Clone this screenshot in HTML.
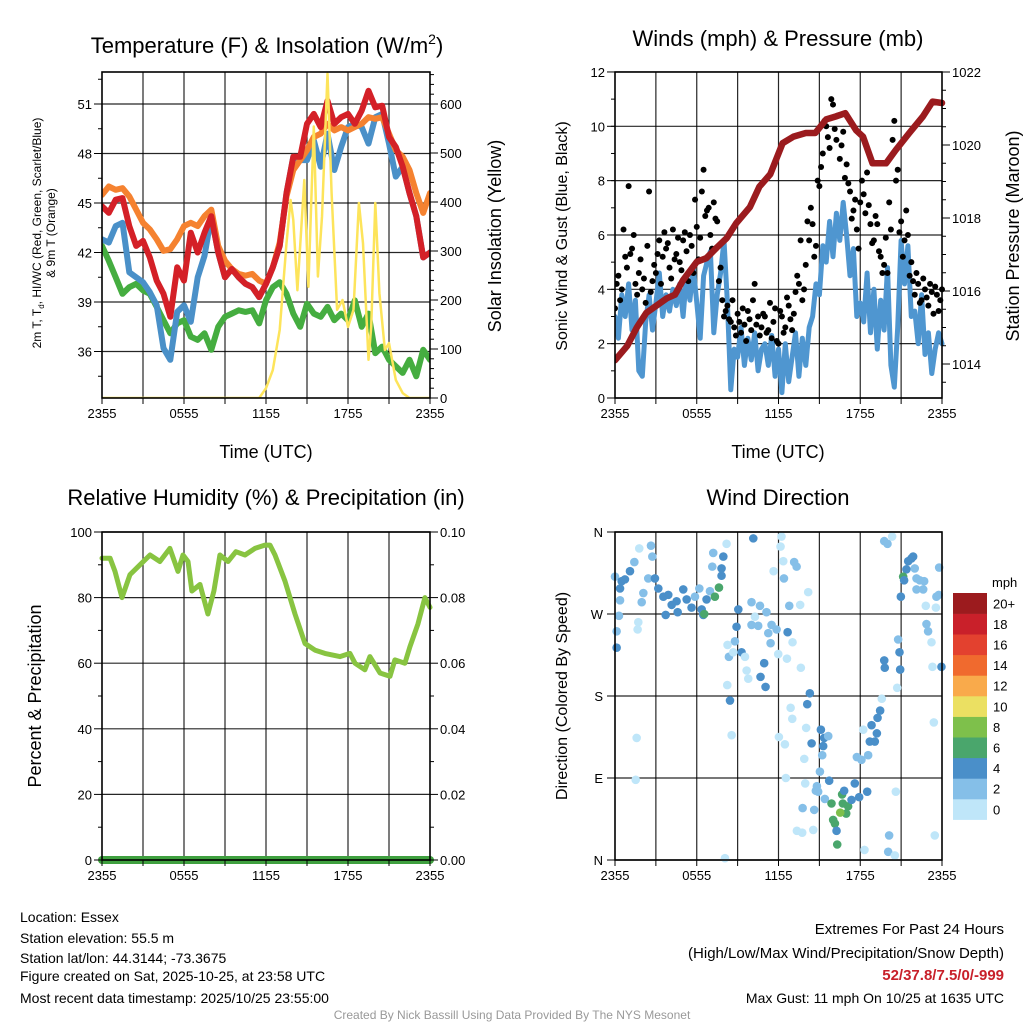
<!DOCTYPE html>
<html><head><meta charset="utf-8"><style>
html,body{margin:0;padding:0;background:#fff;}
svg{display:block;font-family:"Liberation Sans",Arial,sans-serif;}
</style></head><body>
<svg id="chart" width="1024" height="1024" viewBox="0 0 1024 1024" xmlns="http://www.w3.org/2000/svg">
<rect x="0" y="0" width="1024" height="1024" fill="#fff"/>
<g id="layer"></g>
<text x="267" y="53" font-size="22" text-anchor="middle">Temperature (F) &amp; Insolation (W/m<tspan font-size="14" dy="-9">2</tspan><tspan dy="9">)</tspan></text>
<text x="778" y="46" font-size="22" text-anchor="middle">Winds (mph) &amp; Pressure (mb)</text>
<text x="266" y="505" font-size="22" text-anchor="middle">Relative Humidity (%) &amp; Precipitation (in)</text>
<text x="778" y="505" font-size="22" text-anchor="middle">Wind Direction</text>
<text x="266" y="458" font-size="18" text-anchor="middle">Time (UTC)</text>
<text x="778" y="458" font-size="18" text-anchor="middle">Time (UTC)</text>
<text font-size="12" text-anchor="middle" transform="translate(41,233) rotate(-90)">2m T, T<tspan font-size="8" dy="3">d</tspan><tspan dy="-3">, HI/WC (Red, Green, Scarlet/Blue)</tspan></text>
<text font-size="12" text-anchor="middle" transform="translate(55,233) rotate(-90)">&amp; 9m T (Orange)</text>
<text font-size="18" text-anchor="middle" transform="translate(501,236) rotate(-90)">Solar Insolation (Yellow)</text>
<text font-size="16" text-anchor="middle" transform="translate(567,236) rotate(-90)">Sonic Wind &amp; Gust (Blue, Black)</text>
<text font-size="18" text-anchor="middle" transform="translate(1019,236) rotate(-90)">Station Pressure (Maroon)</text>
<text font-size="18" text-anchor="middle" transform="translate(41,696) rotate(-90)">Percent &amp; Precipitation</text>
<text font-size="16" text-anchor="middle" transform="translate(567,696) rotate(-90)">Direction (Colored By Speed)</text>
<g font-size="14">
<text x="20" y="922">Location: Essex</text>
<text x="20" y="943">Station elevation: 55.5 m</text>
<text x="20" y="963">Station lat/lon: 44.3144; -73.3675</text>
<text x="20" y="981">Figure created on Sat, 2025-10-25, at 23:58 UTC</text>
<text x="20" y="1003">Most recent data timestamp: 2025/10/25 23:55:00</text>
</g>
<g font-size="15" text-anchor="end">
<text x="1004" y="934">Extremes For Past 24 Hours</text>
<text x="1004" y="958">(High/Low/Max Wind/Precipitation/Snow Depth)</text>
<text x="1004" y="980" fill="#c8202a" font-weight="bold">52/37.8/7.5/0/-999</text>
<text x="1004" y="1003" font-size="14">Max Gust: 11 mph On 10/25 at 1635 UTC</text>
</g>
<text x="512" y="1019" font-size="12" fill="#999" text-anchor="middle">Created By Nick Bassill Using Data Provided By The NYS Mesonet</text>
</svg>
<script>
// ---------- data ----------
const hoursHalf = [0,0.5,1,1.5,2,2.5,3,3.5,4,4.5,5,5.5,6,6.5,7,7.5,8,8.5,9,9.5,10,10.5,11,11.5,12,12.5,13,13.5,14,14.5,15,15.5,16,16.5,17,17.5,18,18.5,19,19.5,20,20.5,21,21.5,22,22.5,23,23.5,24];
const temp2m = [44.8,44.4,45.2,45.3,43.6,42.4,42.7,41.7,40.3,39.5,38.1,41.1,40.3,43.2,42,43.2,44.2,42,40.5,41,40.5,40.1,39.9,39.3,40.1,41.1,42.4,45.6,47.8,47.8,49.8,50.4,49.6,51.2,49.8,50.2,50.4,49.8,50.6,51.8,50.8,50.9,49,48.4,47.2,45.6,44.2,41.7,42];
const temp9m = [45.5,46,45.8,45.9,45.4,44.6,43.8,43.4,42.8,42.1,42.2,42.8,43.6,43.8,43.6,44.2,44.6,42.4,41.5,41,40.7,40.6,40.7,40.3,40.1,41.1,42.6,45.4,47,47.6,48.2,49,49.2,49.8,49.4,49.6,49.4,49.6,49.8,50.2,50.1,50.2,49.2,48.2,47.8,47,45.6,44.4,45.6];
const heatIndexWC = [42.8,42.6,43.6,43.8,40.8,40.5,40.2,39.6,38.8,36.2,35.5,38.4,38.8,37.8,40.5,41.8,44.2,42,40.5,41,40.5,40.1,39.9,39.3,40.1,41.1,42.4,45.6,47.8,47.6,47.6,48.8,47.2,49.2,47.0,48.4,49.6,49.8,49.6,48.6,50.2,50.4,48.6,46.6,47.2,45.6,44.2,41.7,42];
const dewPoint = [42.4,41.5,40.5,39.5,39.9,40.1,39.7,39.5,38.7,37.9,37.1,37.7,37.9,36.9,36.7,37.1,36.1,37.5,38.1,38.3,38.5,38.4,38.5,37.7,39.1,39.9,40.2,39.5,38.3,37.5,38.9,38.3,38.1,38.7,37.9,38.3,37.9,39.1,37.5,38.3,35.9,36.3,35.5,35.1,34.7,35.5,34.5,36.1,35.5];
const solarHours = [0,11.5,12,12.5,13,13.5,13.8,14,14.3,14.8,15.1,15.5,15.8,16.1,16.5,16.8,17.2,17.6,18,18.4,18.8,19.1,19.5,19.7,20,20.3,20.7,21,21.5,22,22.5,24];
const solarValues = [0,0,20,57,139,316,404,363,220,445,227,554,248,370,662,418,180,200,145,180,398,316,78,145,398,214,98,112,37,10,0,0];

const pressHours = [0,0.9,1.6,2.3,3.8,4.4,5,6,6.7,7.5,8.2,8.9,9.9,10.6,11.4,12.3,13.1,14,14.7,15.5,16.2,16.9,17.7,18.2,18.9,19.9,20.6,21.6,22.6,23.3,24];
const pressValues = [1014.1,1014.5,1015.0,1015.4,1015.8,1015.9,1016.3,1016.8,1016.9,1017.2,1017.45,1017.86,1018.3,1018.86,1019.2,1020.05,1020.23,1020.33,1020.33,1020.7,1020.78,1020.87,1020.4,1020.23,1019.5,1019.5,1019.86,1020.33,1020.78,1021.19,1021.15];
const windSpeed = [3.0,2.2,3.8,3.0,4.2,2.5,3.6,1.0,0.8,2.8,3.8,2.5,3.5,4.6,3.0,3.8,3.2,4.0,3.4,4.2,3.0,4.5,3.6,4.8,3.5,2.2,4.5,5.0,5.4,2.4,3.8,4.6,5.8,3.5,0.3,1.8,1.5,2.6,1.2,2.2,1.4,2.4,1.0,1.8,2.0,1.2,2.3,0.8,1.8,0.2,2.0,0.6,1.5,2.4,0.8,2.2,1.2,2.6,3.0,4.2,3.8,5.6,5.0,6.5,5.2,6.8,5.8,7.2,6.0,4.5,5.5,3.0,3.5,2.8,4.6,2.4,4.0,1.8,3.6,2.5,4.8,1.2,0.4,2.6,5.8,4.2,5.6,3.0,3.2,2.0,3.8,1.6,2.4,0.9,1.8,2.4,2.0];
const gustA = [3.3,4.5,4.0,5.2,7.8,5.5,4.2,4.6,4.0,3.5,7.6,4.3,4.6,5.8,5.2,5.5,4.8,6.2,5.3,5.0,5.8,5.4,6.0,4.6,6.3,5.9,8.4,6.9,6.0,7.2,6.5,4.8,3.0,3.4,2.8,2.6,3.1,2.4,2.7,3.2,2.5,4.2,3.0,2.6,3.0,2.5,2.2,3.3,2.0,3.0,2.6,3.4,2.5,3.9,4.2,3.6,4.9,5.8,6.4,5.6,7.8,9.0,10.0,9.2,10.8,9.5,8.8,9.8,8.6,7.6,6.9,6.2,7.2,7.5,8.3,6.4,5.8,6.4,5.2,4.9,4.6,6.2,10.2,8.4,6.5,5.8,6.0,5.0,3.8,4.2,3.6,4.0,3.4,3.9,4.1,3.2,4.0];
const gustB = [4.2,3.6,6.2,4.8,5.3,6.0,3.8,5.1,4.4,5.6,3.9,4.9,5.3,4.2,6.1,5.7,4.4,5.1,5.9,4.7,6.1,4.3,5.6,7.3,5.1,7.6,6.7,7.0,5.5,6.6,4.3,3.6,3.2,2.9,3.6,2.3,2.8,3.3,2.1,2.9,3.6,2.7,2.3,3.1,2.4,3.5,2.8,2.1,3.2,2.4,3.7,2.9,3.1,4.5,5.8,4.0,6.5,7.0,5.2,8.0,8.5,10.2,9.6,11.0,9.9,10.4,9.3,8.1,7.9,6.6,7.3,5.5,8.0,6.8,7.1,5.7,6.7,5.4,4.6,5.9,7.2,9.5,8.0,6.1,5.2,6.9,4.5,4.3,4.6,3.5,4.4,3.7,4.2,3.1,3.8,3.6];

const rhHours = [0,0.59,0.95,1.46,2.05,2.78,3.51,4.24,4.97,5.56,5.93,6.29,6.58,7.17,7.75,8.19,8.63,9.22,9.8,10.46,11.19,11.92,12.29,12.66,13.39,14.12,14.85,15.58,16.31,17.41,18.14,18.51,19.24,19.6,20.34,21.07,21.43,22.16,22.53,23.12,23.63,24];
const rhValues = [92,92,88,80,87,90,93,91,95,88,93,91,82,84,75,82,93,91,94,93,95,96,96,93,85,75,66,64,63,62,63,60,58,62,57,56,61,60,65,72,80,77];
const precipHours = [0,24];
const precipValues = [0,0];

const dirHours = [0.0,0.37,0.49,0.73,1.10,1.42,1.78,2.64,2.74,2.08,1.96,0.37,0.29,0.12,0.12,1.71,1.66,1.59,1.52,2.44,2.93,3.18,3.55,3.91,4.16,4.52,5.01,5.26,5.62,3.72,4.60,5.87,6.19,6.48,6.36,6.55,6.72,6.97,7.33,7.63,7.82,7.82,7.14,7.95,7.21,8.19,9.05,8.92,8.80,9.29,8.36,8.26,8.68,9.54,9.66,9.78,8.44,8.56,8.07,8.24,10.02,10.64,11.12,10.27,10.02,10.51,11.49,11.86,11.25,11.42,11.98,12.67,13.03,12.62,10.95,10.68,11.05,10.15,12.22,12.15,12.35,11.64,12.40,12.79,13.59,14.18,13.15,13.33,13.64,14.30,14.11,12.89,13.01,14.03,12.03,12.47,14.43,13.89,12.54,13.96,13.77,14.62,14.74,13.35,13.74,14.55,15.11,15.35,15.65,15.28,15.21,15.04,15.72,14.82,14.91,15.40,15.89,16.67,16.72,17.11,16.97,16.53,16.01,16.14,16.26,16.31,16.82,17.36,17.92,17.60,18.51,17.75,18.09,18.58,18.70,19.07,19.22,18.83,19.27,19.46,19.58,18.22,19.76,19.80,20.71,20.78,20.88,20.93,20.61,20.12,18.31,20.05,20.54,19.76,20.00,20.34,21.52,21.76,21.88,21.39,22.00,21.15,21.22,20.98,22.13,22.37,22.69,22.13,22.62,23.79,23.59,23.76,22.81,23.55,22.86,22.98,23.23,23.96,23.30,23.40,23.47];
const dirDegrees = [311,298,306,308,317,327,342,345,333,293,283,285,268,251,233,261,253,134,88,309,309,298,289,291,280,284,297,286,277,269,272,289,298,269,275,270,286,295,289,299,312,320,322,333,337,347,275,256,240,228,223,236,228,223,208,199,175,137,2,192,283,279,272,267,258,257,258,253,249,238,226,250,239,221,216,201,190,353,355,344,328,317,309,279,280,294,327,322,211,183,171,167,155,145,135,127,128,111,90,84,57,55,76,32,30,33,143,134,136,125,115,97,87,81,75,67,62,72,62,59,51,52,44,40,32,17,76,66,69,84,75,113,110,115,130,130,139,148,156,164,177,143,219,211,189,242,228,209,75,27,11,9,5,350,347,355,328,331,333,319,320,311,307,289,309,307,306,297,297,321,289,291,279,277,259,251,239,212,212,151,27];
const dirSpeed = [3,5,5,5,5,3,1,3,3,3,3,3,3,3,5,1,1,1,1,3,5,5,5,5,5,5,5,5,5,5,5,3,3,5,5,7,5,3,7,7,5,5,3,5,3,1,5,5,3,5,3,1,1,1,1,1,5,1,1,1,3,3,3,1,3,3,3,3,3,3,1,5,1,1,5,5,5,5,1,1,1,1,3,3,1,1,3,3,1,5,5,1,1,1,1,1,5,1,1,1,3,3,3,1,1,1,5,5,3,5,3,3,5,3,3,3,7,7,7,7,7,9,7,7,5,7,5,5,5,5,5,3,3,3,5,5,5,5,5,5,1,1,5,5,1,3,5,5,1,3,1,3,1,3,3,1,5,5,5,5,3,7,5,5,3,3,3,3,3,3,3,3,1,1,3,3,1,5,1,1,1];

const cbLabels = ["0","2","4","6","8","10","12","14","16","18","20+"];
const cbColors = ["#bfe6f9","#85bfe8","#4a8fc9","#4aa66c","#7ec04b","#ebe062","#f9aa4b","#f06a2e","#e3412f","#c9202a","#9c1b1e"];

// ---------- helpers ----------
const NS = "http://www.w3.org/2000/svg";
const root = document.getElementById('layer');
function mk(tag, parent){ const e = document.createElementNS(NS, tag); (parent||root).appendChild(e); return e; }
function at(e, o){ for (const k in o) e.setAttribute(k, o[k]); return e; }
function grp(parent){ return mk('g', parent); }

function speedColor(s){ let i = Math.floor(s/2); if (i>10) i=10; if (i<0) i=0; return cbColors[i]; }

function frame(g, x0, x1, y0, y1, xs, hLines){
  // grid verticals every 3h
  for (let h=3; h<24; h+=3){
    const l = mk('line', g);
    
    
    at(l, {x1:xs(h), x2:xs(h), y1:y0, y2:y1, stroke:'#000', 'stroke-width':1.2, 'stroke-opacity':0.85});
  }
  hLines.forEach(y=>{
    const l = mk('line', g);
    
    
    at(l, {x1:x0, x2:x1, y1:y, y2:y, stroke:'#000', 'stroke-width':1.2, 'stroke-opacity':0.85});
  });
}
function border(g, x0, x1, y0, y1){
  const r = mk('rect', g);
  
  
  at(r, {x:x0, y:y0, width:x1-x0, height:y1-y0, fill:'none', stroke:'#000', 'stroke-width':1.6});
}
function tick(g, x1, y1, x2, y2){
  const l = mk('line', g);
  
  
  at(l, {x1:x1, y1:y1, x2:x2, y2:y2, stroke:'#000', 'stroke-width':1});
}
function label(g, x, y, txt, anchor, name){
  const t = mk('text', g);
  
  
  at(t, {x:x, y:y, 'font-size':13, 'text-anchor':anchor});
  t.textContent = txt;
  return t;
}
function xAxis(g, xs, y1){
  const lbl = ["2355","0555","1155","1755","2355"];
  for (let h=0; h<=24; h+=3){ tick(g, xs(h), y1, xs(h), y1+6); }
  for (let i=0;i<5;i++){ label(g, xs(i*6), y1+20, lbl[i], 'middle', 'x-tick-label'); }
}
function yAxisLeft(g, x0, ys, vals, minor, fmt){
  minor.forEach(v=>tick(g, x0-4, ys(v), x0, ys(v)));
  vals.forEach(v=>{ tick(g, x0-8, ys(v), x0, ys(v)); label(g, x0-10, ys(v)+5, fmt(v), 'end', 'y-tick-label'); });
}
function yAxisRight(g, x1, ys, vals, minor, fmt){
  minor.forEach(v=>tick(g, x1, ys(v), x1+4, ys(v)));
  vals.forEach(v=>{ tick(g, x1, ys(v), x1+8, ys(v)); label(g, x1+10, ys(v)+5, fmt(v), 'start', 'y2-tick-label'); });
}
function line(g, xsArr, ysArr, xs, ys, color, w, name){
  const p = mk('polyline', g);
  
  
  at(p, {points: xsArr.map((h,i)=>xs(h).toFixed(1)+','+ys(ysArr[i]).toFixed(1)).join(' '), fill:'none', stroke:color, 'stroke-width':w, 'stroke-linejoin':'round', 'stroke-linecap':'round'});
}
function range(a,b,s){ const r=[]; for(let v=a; v<=b+1e-9; v+=s) r.push(+v.toFixed(4)); return r; }

// ---------- panel 1: temperature ----------
(function(){
  const x0=102,x1=430,y0=72,y1=398;
  const xs = h => x0 + h*(x1-x0)/24;
  const yT = v => 104 + (51-v)*16.5;
  const yS = w => y1 - w*0.49;
  const g = grp();  
  const tv = range(36,51,3);
  frame(g,x0,x1,y0,y1,xs,tv.map(yT));
  const clip = mk('clipPath', g); clip.setAttribute('id','c1'); at(mk('rect',clip),{x:x0,y:y0-8,width:x1-x0,height:y1-y0+8});
  const s = grp(g); s.setAttribute('clip-path','url(#c1)');
  line(s, hoursHalf, dewPoint, xs, yT, '#45ad40', 6, 'dewpoint-line');
  line(s, hoursHalf, heatIndexWC, xs, yT, '#4a90c8', 6, 'heat-index-windchill-line');
  line(s, hoursHalf, temp9m, xs, yT, '#f58230', 6, 'temp-9m-line');
  line(s, hoursHalf, temp2m, xs, yT, '#d42027', 6, 'temp-2m-line');
  line(s, solarHours, solarValues, xs, yS, '#fde45b', 2.5, 'solar-insolation-line');
  border(g,x0,x1,y0,y1);
  xAxis(g, xs, y1);
  yAxisLeft(g, x0, yT, tv, range(34.5,52.5,1.5), v=>String(v));
  yAxisRight(g, x1, yS, range(0,600,100), range(0,660,20), v=>String(v));
})();

// ---------- panel 2: wind & pressure ----------
(function(){
  const x0=615,x1=942,y0=72,y1=398;
  const xs = h => x0 + h*(x1-x0)/24;
  const yW = v => y1 - v*27.17;
  const yP = p => 145 + (1020-p)*36.5;
  const g = grp();  
  const wv = range(0,12,2);
  frame(g,x0,x1,y0,y1,xs,wv.map(yW));
  const clip = mk('clipPath', g); clip.setAttribute('id','c2'); at(mk('rect',clip),{x:x0,y:y0,width:x1-x0+6,height:y1-y0});
  const s = grp(g); s.setAttribute('clip-path','url(#c2)');
  const q = windSpeed.map((v,i)=>i*0.25);
  line(s, q, windSpeed, xs, yW, '#4f96d0', 5, 'sonic-wind-line');
  gustA.forEach((v,i)=>{ const c = mk('circle', s);
    
    
    at(c,{cx:xs(i*0.25), cy:yW(v), r:3, fill:'#000'}); });
  gustB.forEach((v,i)=>{ const c = mk('circle', s);
    
    
    at(c,{cx:xs(i*0.25+0.125), cy:yW(v), r:3, fill:'#000'}); });
  line(s, pressHours, pressValues, xs, yP, '#9b1b1e', 6.5, 'pressure-line');
  border(g,x0,x1,y0,y1);
  xAxis(g, xs, y1);
  yAxisLeft(g, x0, yW, wv, range(1,11,1), v=>String(v));
  yAxisRight(g, x1, yP, range(1014,1022,2), range(1013.5,1022,0.5), v=>String(v));
})();

// ---------- panel 3: RH ----------
(function(){
  const x0=102,x1=430,y0=532,y1=860;
  const xs = h => x0 + h*(x1-x0)/24;
  const yR = v => y1 - v*3.28;
  const yPr = p => y1 - p*3280;
  const g = grp();  
  const rv = range(0,100,20);
  frame(g,x0,x1,y0,y1,xs,rv.map(yR));
  line(g, rhHours, rhValues, xs, yR, '#88c441', 5, 'relative-humidity-line');
  line(g, precipHours, precipValues, xs, yPr, '#3fa03f', 8, 'precipitation-line');
  border(g,x0,x1,y0,y1);
  xAxis(g, xs, y1);
  yAxisLeft(g, x0, yR, rv, range(10,90,20), v=>String(v));
  yAxisRight(g, x1, yPr, range(0,0.1,0.02), range(0.01,0.09,0.02), v=>v.toFixed(2));
})();

// ---------- panel 4: wind direction ----------
(function(){
  const x0=615,x1=942,y0=532,y1=860;
  const xs = h => x0 + h*(x1-x0)/24;
  const yD = d => y1 - d*(y1-y0)/360;
  const g = grp();  
  const dv = [0,90,180,270,360];
  frame(g,x0,x1,y0,y1,xs,dv.map(yD));
  dirHours.forEach((h,i)=>{ const c = mk('circle', g);
    
    
    at(c,{cx:xs(h), cy:yD(dirDegrees[i]), r:4.3, fill:speedColor(dirSpeed[i])}); });
  border(g,x0,x1,y0,y1);
  xAxis(g, xs, y1);
  const dl = ["N","E","S","W","N"];
  dv.forEach((d,i)=>{ tick(g, x0-8, yD(d), x0, yD(d)); label(g, x0-12, yD(d)+5, dl[i], 'end', 'direction-tick-label'); });
  // colorbar
  const cb = grp();  
  const bx=953, bw=34, btop=593, bh=20.6;
  cbColors.forEach((col,i)=>{ const r = mk('rect', cb);
    
    
    const yy = btop + (10-i)*bh;
    at(r,{x:bx, y:yy, width:bw, height:bh+0.3, fill:col});
    label(cb, bx+40, yy+bh/2+5, cbLabels[i], 'start', 'colorbar-label'); });
  label(cb, 992, 587, 'mph', 'start', 'colorbar-unit');
})();
</script>
</body></html>
